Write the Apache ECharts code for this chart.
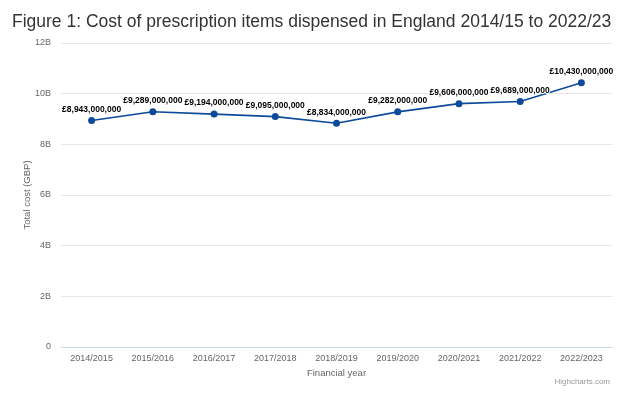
<!DOCTYPE html>
<html><head><meta charset="utf-8">
<script src="https://cdn.jsdelivr.net/npm/echarts@6/dist/echarts.min.js"></script>
<style>html,body{margin:0;padding:0;background:#fff}#c{width:634px;height:394px}</style>
</head><body><div id="c"></div>
<script>
const categories = ['2014/2015','2015/2016','2016/2017','2017/2018','2018/2019','2019/2020','2020/2021','2021/2022','2022/2023'];
const costs = [8943000000, 9289000000, 9194000000, 9095000000, 8834000000, 9282000000, 9606000000, 9689000000, 10430000000];
const yTicks = ['0','2B','4B','6B','8B','10B','12B'];

const chart = echarts.init(document.getElementById('c'));
const fontFam = '"Liberation Sans", Arial, sans-serif';
chart.setOption({
  animation: false,
  title: {
    text: 'Figure 1: Cost of prescription items dispensed in England 2014/15 to 2022/23',
    left: 7, top: 8,
    textStyle: { fontFamily: fontFam, fontSize: 17.5, fontWeight: 'normal', color: '#333' }
  },
  graphic: [{
    type: 'text', right: 24, top: 378,
    style: { text: 'Highcharts.com', fontFamily: fontFam, fontSize: 8, fill: '#999' }
  }, {
    type: 'text', x: 27, y: 195, rotation: Math.PI / 2,
    style: { text: 'Total cost (GBP)', fontFamily: fontFam, fontSize: 9.5, fill: '#666',
             align: 'center', verticalAlign: 'middle' }
  }],
  grid: { left: 61, right: 22, top: 43, bottom: 47 },
  xAxis: {
    type: 'category', data: categories, boundaryGap: true,
    name: 'Financial year', nameLocation: 'middle', nameGap: 20,
    nameTextStyle: { fontFamily: fontFam, fontSize: 9.5, color: '#666' },
    axisLine: { lineStyle: { color: '#ccd6eb' } },
    axisTick: { show: false },
    axisLabel: { fontFamily: fontFam, fontSize: 9, color: '#666', margin: 7 }
  },
  yAxis: {
    type: 'value', min: 0, max: 12000000000, interval: 2000000000,
    axisLine: { show: false }, axisTick: { show: false },
    splitLine: { lineStyle: { color: '#e6e6e6' } },
    axisLabel: {
      fontFamily: fontFam, fontSize: 9, color: '#666', margin: 10,
      formatter: v => yTicks[Math.round(v / 2000000000)]
    }
  },
  series: [{
    type: 'line', data: costs,
    symbol: 'circle', symbolSize: 7,
    lineStyle: { color: '#0d4a9c', width: 1.6 },
    itemStyle: { color: '#0d4a9c' },
    label: {
      show: true, position: 'top', distance: 3,
      fontFamily: fontFam, fontSize: 8.5, fontWeight: 'bold', color: '#000',
      textBorderColor: '#fff', textBorderWidth: 2,
      formatter: p => '£' + p.value.toLocaleString('en-GB')
    }
  }]
});
</script></body></html>
